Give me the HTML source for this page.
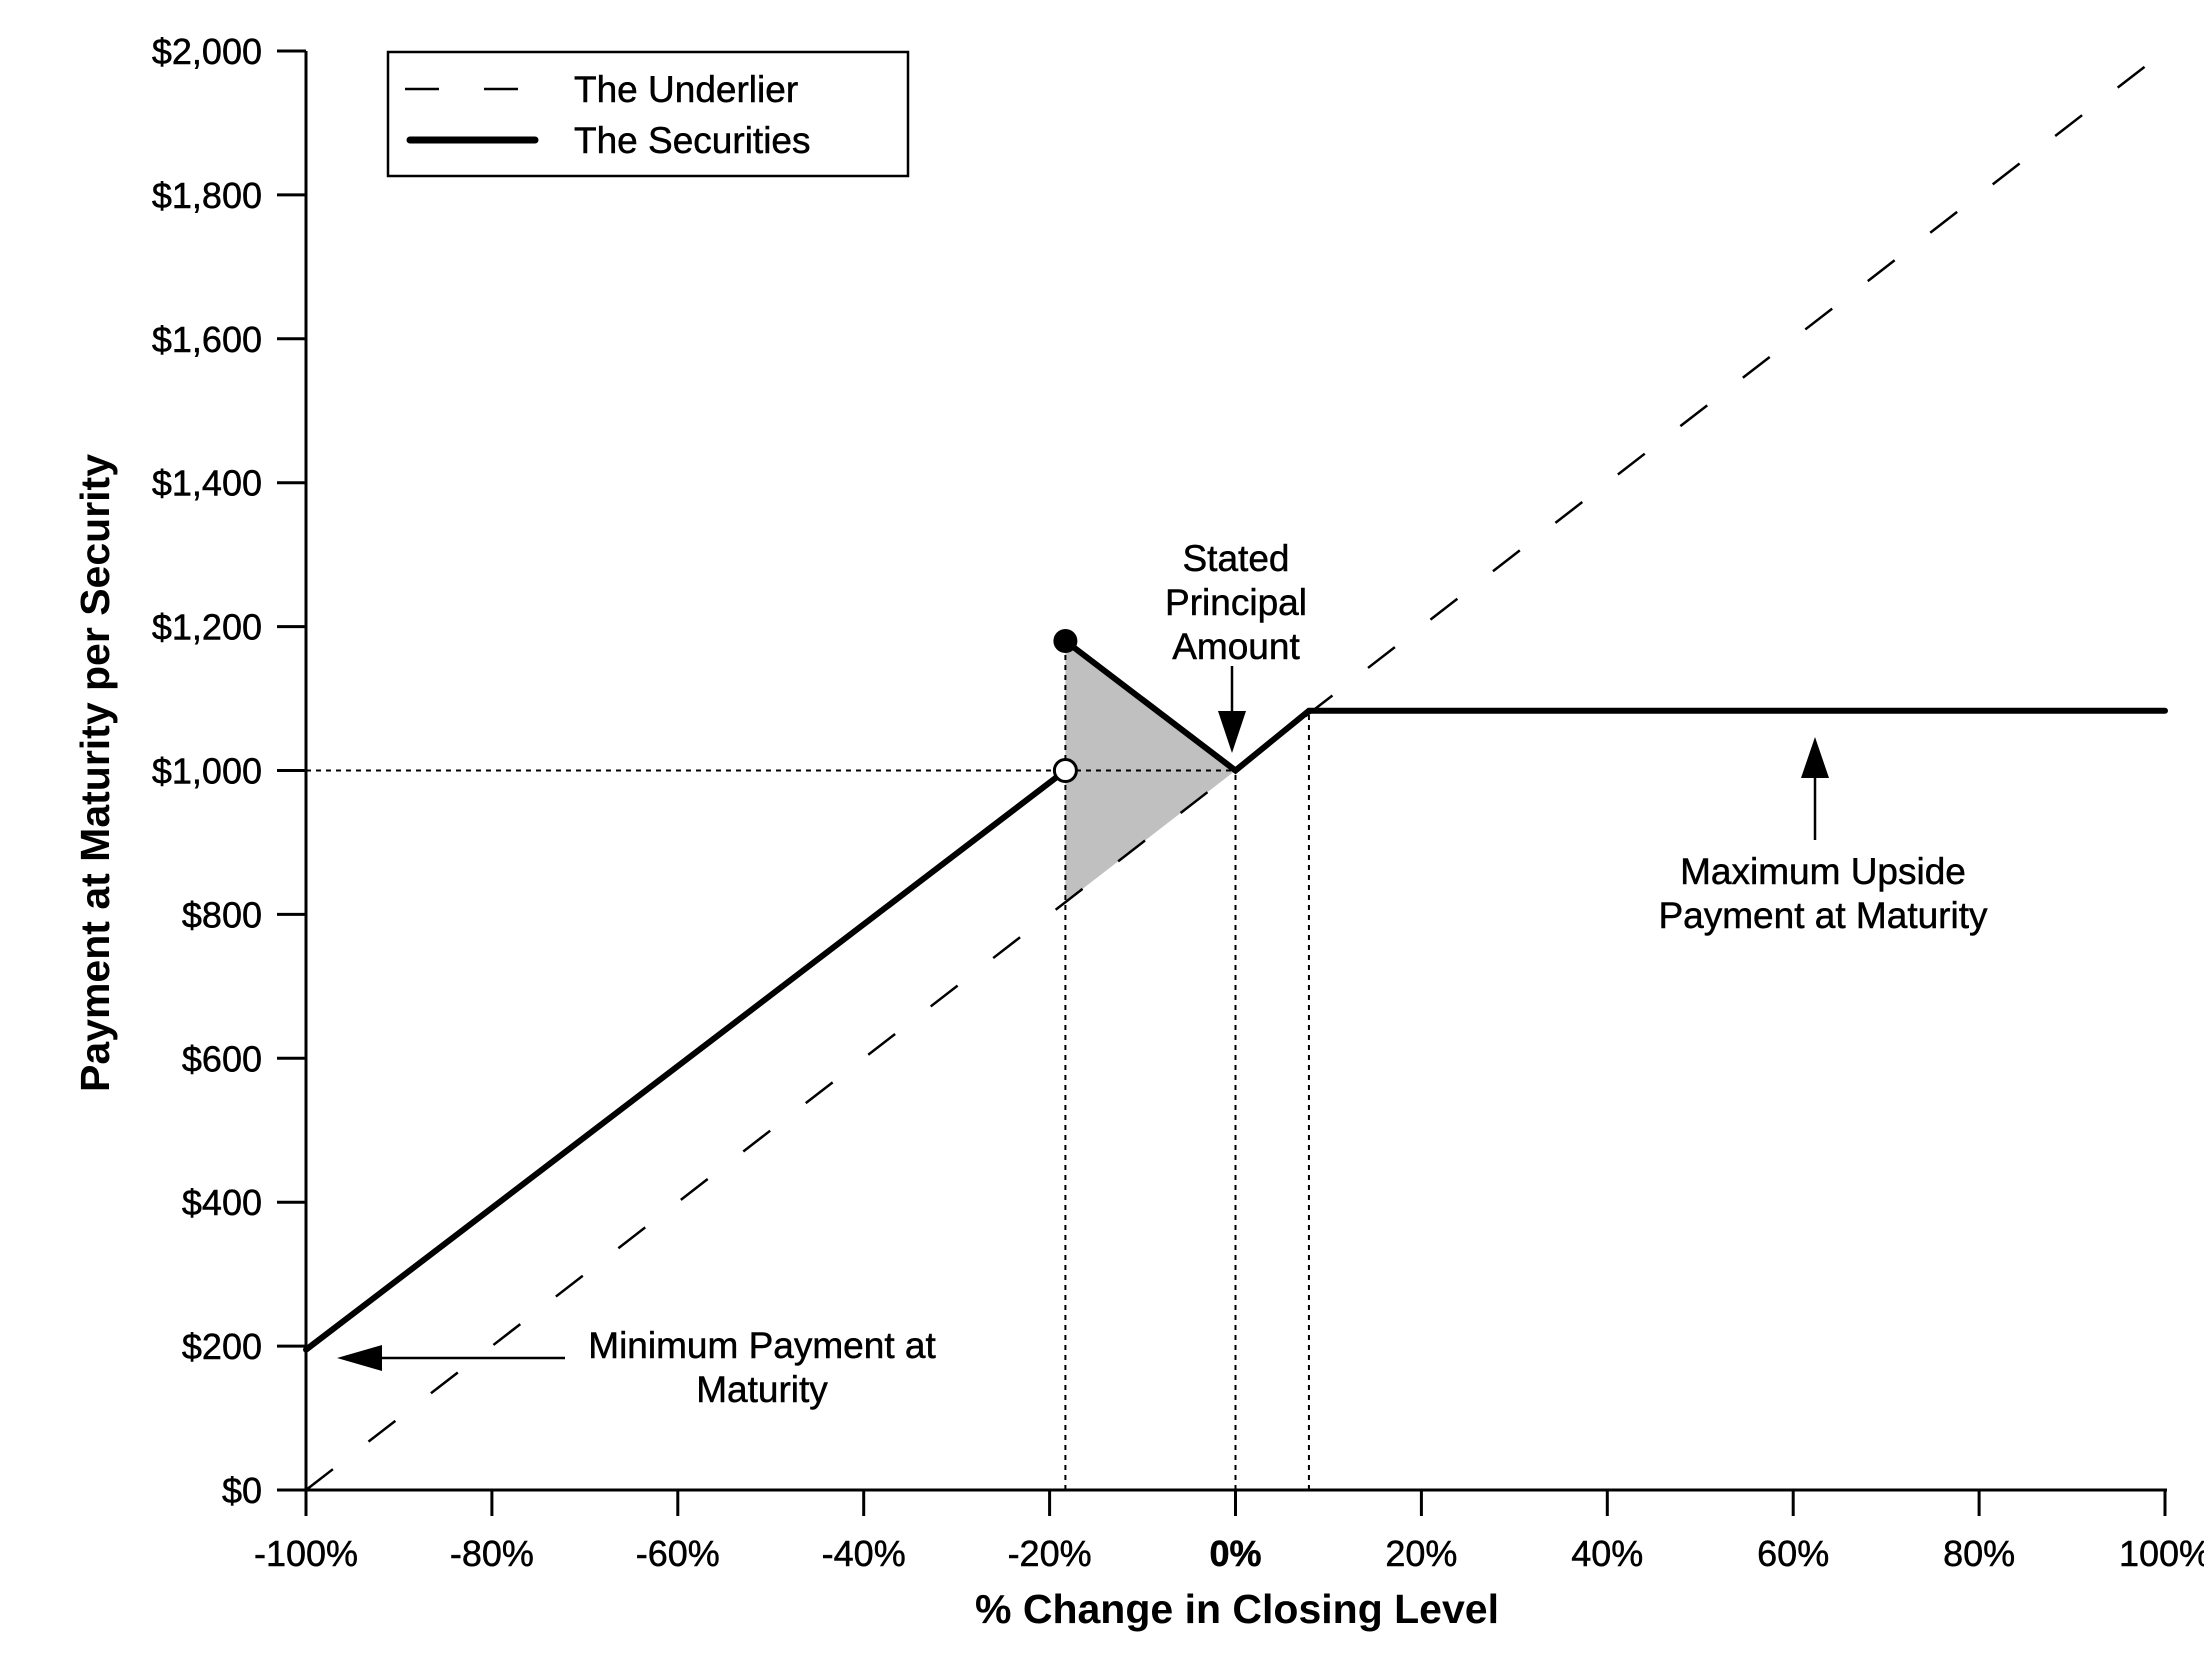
<!DOCTYPE html>
<html><head><meta charset="utf-8"><style>
html,body{margin:0;padding:0;background:#fff;}
svg{display:block;font-family:"Liberation Sans",Arial,sans-serif;}
</style></head><body>
<svg id="chart" width="2204" height="1661" viewBox="0 0 2204 1661" xmlns="http://www.w3.org/2000/svg">
<rect width="2204" height="1661" fill="#fff"/>
<g id="marks"></g>
<g id="axes"></g>
<g>
  <rect x="388" y="52" width="520" height="124" fill="#fff" stroke="#000" stroke-width="2.5"/>
  <line x1="405" y1="89" x2="535" y2="89" stroke="#000" stroke-width="2.5" stroke-dasharray="34,45"/>
  <text x="574" y="102" font-size="37" stroke="#000" stroke-width="0.5">The Underlier</text>
  <line x1="410" y1="140" x2="535" y2="140" stroke="#000" stroke-width="7" stroke-linecap="round"/>
  <text x="574" y="153" font-size="37" stroke="#000" stroke-width="0.5">The Securities</text>
</g>
<g font-size="37" stroke="#000" stroke-width="0.5" text-anchor="middle">
  <text x="1236" y="571">Stated</text>
  <text x="1236" y="615">Principal</text>
  <text x="1236" y="659">Amount</text>
</g>
<g>
  <line x1="1232" y1="666" x2="1232" y2="715" stroke="#000" stroke-width="2.5"/>
  <polygon points="1218,711 1246,711 1232,753" fill="#000"/>
</g>
<g font-size="37" stroke="#000" stroke-width="0.5" text-anchor="middle">
  <text x="762" y="1358">Minimum Payment at</text>
  <text x="762" y="1402">Maturity</text>
</g>
<g>
  <line x1="565" y1="1358" x2="370" y2="1358" stroke="#000" stroke-width="2.5"/>
  <polygon points="337,1358 382,1345 382,1371" fill="#000"/>
</g>
<g font-size="37" stroke="#000" stroke-width="0.5" text-anchor="middle">
  <text x="1823" y="884">Maximum Upside</text>
  <text x="1823" y="928">Payment at Maturity</text>
</g>
<g>
  <line x1="1815" y1="840" x2="1815" y2="770" stroke="#000" stroke-width="2.5"/>
  <polygon points="1801,778 1829,778 1815,737" fill="#000"/>
</g>
<text x="1237" y="1623" font-size="41" font-weight="bold" text-anchor="middle">% Change in Closing Level</text>
<text x="0" y="0" font-size="41" font-weight="bold" text-anchor="middle" transform="translate(109,773) rotate(-90)">Payment at Maturity per Security</text>
</svg>
<script>
const xTicks = [-100,-80,-60,-40,-20,0,20,40,60,80,100];
const xTickLabels = ["-100%","-80%","-60%","-40%","-20%","0%","20%","40%","60%","80%","100%"];
const yTicks = [0,200,400,600,800,1000,1200,1400,1600,1800,2000];
const yTickLabels = ["$0","$200","$400","$600","$800","$1,000","$1,200","$1,400","$1,600","$1,800","$2,000"];
const underlierX = [-100,100];
const underlierY = [0,2000];
const secLowX = [-100,-18.3];
const secLowY = [195,1000];
const secHighX = [-18.3,0,7.9,100];
const secHighY = [1180,1000,1083,1083];
const shadeX = [-18.3,0,-18.3];
const shadeY = [1180,1000,817];

const X0=306,X1=2165,Y0=1490,Y1=51;
function sx(v){return X0+(v+100)/200*(X1-X0);}
function sy(v){return Y0-v/2000*(Y0-Y1);}
const NS="http://www.w3.org/2000/svg";
function mk(tag,attrs,parent){const e=document.createElementNS(NS,tag);for(const k in attrs)e.setAttribute(k,attrs[k]);parent.appendChild(e);return e;}
const marks=document.getElementById('marks'), axes=document.getElementById('axes');

let e=mk('polygon',{points:shadeX.map((x,i)=>sx(x)+','+sy(shadeY[i])).join(' '),fill:'#c0c0c0'},marks);



e=mk('line',{x1:sx(underlierX[0]),y1:sy(underlierY[0]),x2:sx(underlierX[1]),y2:sy(underlierY[1]),stroke:'#000','stroke-width':2.5,'stroke-dasharray':'34,45'},marks);



const dot={stroke:'#000','stroke-width':2,'stroke-dasharray':'5,5'};
function dl(x1,y1,x2,y2,name){const l=mk('line',Object.assign({x1,y1,x2,y2},dot),marks);

}
dl(X0,sy(secLowY[1]),sx(secHighX[1]),sy(secLowY[1]),'ref-line-1000');
dl(sx(secLowX[1]),Y0,sx(secLowX[1]),sy(secHighY[0]),'ref-line-buffer');
dl(sx(secHighX[1]),Y0,sx(secHighX[1]),sy(secHighY[1]),'ref-line-zero');
dl(sx(secHighX[2]),Y0,sx(secHighX[2]),sy(secHighY[2]),'ref-line-cap');

e=mk('polyline',{points:secLowX.map((x,i)=>sx(x)+','+sy(secLowY[i])).join(' '),fill:'none',stroke:'#000','stroke-width':6,'stroke-linecap':'round'},marks);


e=mk('polyline',{points:secHighX.map((x,i)=>sx(x)+','+sy(secHighY[i])).join(' '),fill:'none',stroke:'#000','stroke-width':6,'stroke-linecap':'round','stroke-linejoin':'miter'},marks);


e=mk('circle',{cx:sx(secLowX[1]),cy:sy(secLowY[1]),r:11,fill:'#fff',stroke:'#000','stroke-width':3},marks);


e=mk('circle',{cx:sx(secHighX[0]),cy:sy(secHighY[0]),r:12,fill:'#000'},marks);



e=mk('line',{x1:X0,y1:Y1,x2:X0,y2:Y0,stroke:'#000','stroke-width':3},axes);


e=mk('line',{x1:X0,y1:Y0,x2:X1+2,y2:Y0,stroke:'#000','stroke-width':3},axes);


yTicks.forEach((v,i)=>{
  mk('line',{x1:277,y1:sy(v),x2:X0,y2:sy(v),stroke:'#000','stroke-width':3},axes);
  const t=mk('text',{x:262,y:sy(v)+13,'font-size':36,'text-anchor':'end',stroke:'#000','stroke-width':0.5},axes);
  t.textContent=yTickLabels[i];
  
  
});
xTicks.forEach((v,i)=>{
  mk('line',{x1:sx(v),y1:Y0,x2:sx(v),y2:1516,stroke:'#000','stroke-width':3},axes);
  const t=mk('text',{x:sx(v),y:1566,'font-size':36,'text-anchor':'middle',stroke:'#000','stroke-width':0.5,'font-weight':v===0?'bold':'normal'},axes);
  t.textContent=xTickLabels[i];
  
  
});
</script>
</body></html>
